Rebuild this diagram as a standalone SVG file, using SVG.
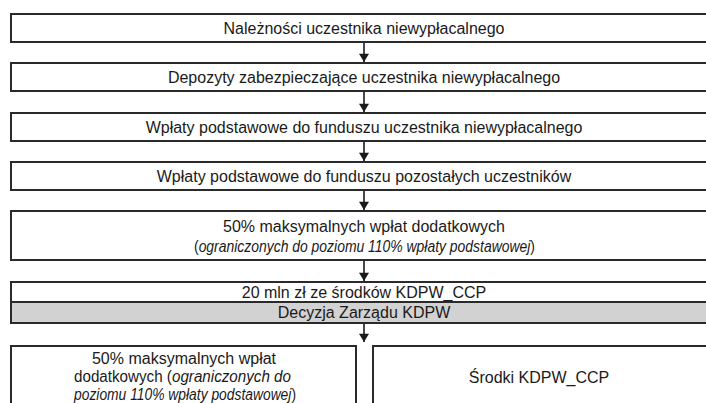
<svg xmlns="http://www.w3.org/2000/svg" width="706" height="403" viewBox="0 0 706 403">
<style>
.box{fill:#fff;stroke:#2a2a2a;stroke-width:2}
.grey{fill:#d2d2d2;stroke:#2a2a2a;stroke-width:2}
text{font-family:"Liberation Sans",Arial,sans-serif;font-size:16px;fill:#1a1a1a;text-anchor:middle}
.it{font-style:italic}
.conn{stroke:#1a1a1a;stroke-width:1.6;fill:none}
</style>
<defs>
<marker id="ah" viewBox="0 0 10 12" refX="10" refY="6" markerWidth="12" markerHeight="10" markerUnits="userSpaceOnUse" orient="auto">
<path d="M0,0 L10,6 L0,12 Z" fill="#1a1a1a"/>
</marker>
</defs>
<rect width="706" height="403" fill="#fff"/>
<g id="connectors">
<line class="conn" x1="364" y1="42" x2="364" y2="62" marker-end="url(#ah)"/>
<line class="conn" x1="364" y1="91" x2="364" y2="112" marker-end="url(#ah)"/>
<line class="conn" x1="364" y1="141" x2="364" y2="161" marker-end="url(#ah)"/>
<line class="conn" x1="364" y1="190" x2="364" y2="210" marker-end="url(#ah)"/>
<line class="conn" x1="364" y1="260" x2="364" y2="281" marker-end="url(#ah)"/>
<line class="conn" x1="364" y1="323" x2="364" y2="342" marker-end="url(#ah)"/>
</g>
<g id="n1"><rect class="box" x="11" y="14" width="720" height="28"/><text x="364" y="34">Należności uczestnika niewypłacalnego</text></g>
<g id="n2"><rect class="box" x="11" y="63" width="720" height="28"/><text x="364" y="83">Depozyty zabezpieczające uczestnika niewypłacalnego</text></g>
<g id="n3"><rect class="box" x="11" y="113" width="720" height="28"/><text x="364" y="133">Wpłaty podstawowe do funduszu uczestnika niewypłacalnego</text></g>
<g id="n4"><rect class="box" x="11" y="162" width="720" height="28"/><text x="364" y="182">Wpłaty podstawowe do funduszu pozostałych uczestników</text></g>
<g id="n5"><rect class="box" x="11" y="211" width="720" height="49"/><text x="364" y="232">50% maksymalnych wpłat dodatkowych</text><text x="364.5" y="252" textLength="341" lengthAdjust="spacingAndGlyphs">(<tspan class="it">ograniczonych do poziomu 110% wpłaty podstawowej</tspan>)</text></g>
<g id="n6"><rect class="box" x="11" y="282" width="720" height="20"/><text x="364" y="298">20 mln zł ze środków KDPW_CCP</text></g>
<g id="n7"><rect class="grey" x="11" y="302" width="720" height="21"/><text x="364" y="318">Decyzja Zarządu KDPW</text></g>
<g id="n8"><rect class="box" x="11" y="346" width="345" height="70"/><text x="184" y="364">50% maksymalnych wpłat</text><text x="182.5" y="382" textLength="217" lengthAdjust="spacingAndGlyphs">dodatkowych (<tspan class="it">ograniczonych do</tspan></text><text x="185" y="400" textLength="222" lengthAdjust="spacingAndGlyphs"><tspan class="it">poziomu 110% wpłaty podstawowej</tspan>)</text></g>
<g id="n9"><rect class="box" x="373" y="346" width="360" height="70"/><text x="539" y="383">Środki KDPW_CCP</text></g>
</svg>
